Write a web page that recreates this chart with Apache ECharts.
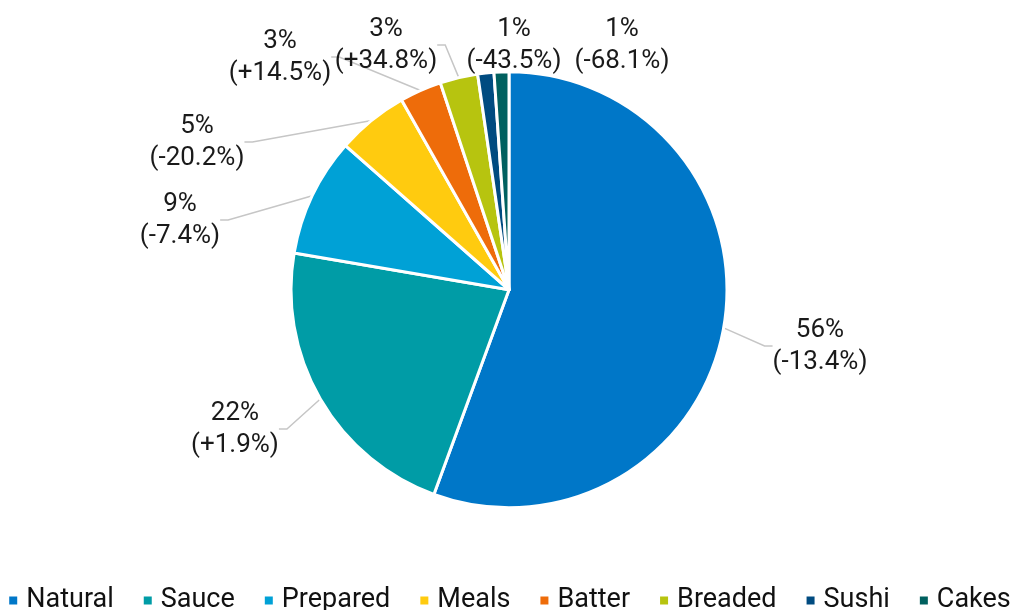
<!DOCTYPE html>
<html><head><meta charset="utf-8">
<script src="https://cdn.jsdelivr.net/npm/echarts@6/dist/echarts.min.js"></script>
<style>html,body{margin:0;padding:0;background:#fff}#c{width:1018px;height:610px}</style>
</head><body><div id="c"></div>
<script>
const categories = ['Natural','Sauce','Prepared','Meals','Batter','Breaded','Sushi','Cakes'];
const shares = [55.6, 22.1, 8.8, 5.3, 3.1, 2.8, 1.2, 1.1];
const shareLabels = ['56%','22%','9%','5%','3%','3%','1%','1%'];
const changeLabels = ['-13.4%','+1.9%','-7.4%','-20.2%','+14.5%','+34.8%','-43.5%','-68.1%'];
const colors = ['#0077C8','#009CA6','#00A1D6','#FFCB0F','#EE6C0A','#B7C40F','#004B80','#00605F'];

// label block centres (layout only)
const labelPos = [[820,346],[235,429],[180,220],[197,142],[280,57],[386,45],[514,45],[622,45]];

const chart = echarts.init(document.getElementById('c'));
chart.setOption({
  animation: false,
  color: colors,
  textStyle: { fontFamily: 'Roboto' },
  legend: {
    bottom: -9, left: 'center', itemWidth: 10, itemHeight: 10, itemGap: 28,
    icon: 'rect',
    textStyle: { fontSize: 27, color: '#111', fontFamily: 'Roboto', padding: [0, 0, 0, 3] },
    data: categories
  },
  series: [{
    type: 'pie',
    center: ['50%', '47.5%'],
    radius: 218,
    startAngle: 90,
    clockwise: true,
    itemStyle: { borderColor: '#fff', borderWidth: 3 },
    label: {
      show: true,
      formatter: p => shareLabels[p.dataIndex] + '\n(' + changeLabels[p.dataIndex] + ')',
      fontSize: 26, color: '#1a1a1a', lineHeight: 32, align: 'center'
    },
    labelLine: { show: true, length: 15, length2: 8, lineStyle: { color: '#c6c6c6', width: 1.5 } },
    labelLayout: function (p) {
      const pos = labelPos[p.dataIndex];
      return { x: pos[0], y: pos[1], align: 'center', verticalAlign: 'middle' };
    },
    data: categories.map((c, i) => ({ name: c, value: shares[i], labelLine: { show: i < 6 } }))
  }]
});
</script></body></html>
